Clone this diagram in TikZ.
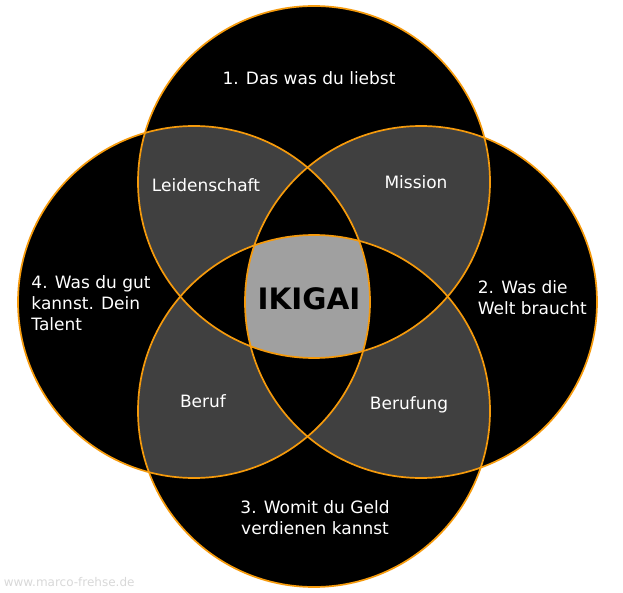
\documentclass[tikz,border=0pt]{standalone}
\usepackage{fontspec}
\setmainfont{DejaVu Sans}
\usepackage{tikz}
\usepackage{xcolor}
\definecolor{ringorange}{HTML}{F59A0C}
\definecolor{pairgrey}{HTML}{404040}
\definecolor{coregrey}{HTML}{A0A0A0}
\definecolor{markgrey}{HTML}{D8D8D8}

\begin{document}
\begin{tikzpicture}[x=1pt,y=1pt,line width=1.7pt]
\tikzstyle{caption}=[text=white,align=center,font=\fontsize{17}{21.3}\selectfont,inner sep=0pt]

\edef\sizering{176pt}
\useasboundingbox (0,0) rectangle (623,-593);

\coordinate (top) at (314,-182);
\coordinate (right) at (421,-302);
\coordinate (bottom) at (314,-411);
\coordinate (left) at (194,-302);

% black rings
\fill[black] (top) circle (\sizering);
\fill[black] (right) circle (\sizering);
\fill[black] (bottom) circle (\sizering);
\fill[black] (left) circle (\sizering);

% neighbours
\begin{scope}
    \clip (top) circle (\sizering);
    \fill[pairgrey] (left) circle (\sizering);
    \fill[pairgrey] (right) circle (\sizering);
\end{scope}
\begin{scope}
    \clip (bottom) circle (\sizering);
    \fill[pairgrey] (left) circle (\sizering);
    \fill[pairgrey] (right) circle (\sizering);
\end{scope}

% opposites
\begin{scope}
    \clip (top) circle (\sizering);
    \fill[black] (bottom) circle (\sizering);
\end{scope}
\begin{scope}
    \clip (left) circle (\sizering);
    \fill[black] (right) circle (\sizering);
\end{scope}

% middle
\begin{scope}
    \clip (top) circle (\sizering);
    \clip (bottom) circle (\sizering);
    \clip (left) circle (\sizering);
    \fill[coregrey] (right) circle (\sizering);
\end{scope}

\draw[ringorange] (top) circle (\sizering);
\draw[ringorange] (right) circle (\sizering);
\draw[ringorange] (bottom) circle (\sizering);
\draw[ringorange] (left) circle (\sizering);

\node [caption] (love) at (309,-78) {1. Das was du liebst};
\node [caption,align=left,anchor=west] (world) at (477,-298) {2. Was die\\Welt braucht};
\node [caption] (money) at (315,-518) {3. Womit du Geld\\verdienen kannst};
\node [caption,align=left] (talent) at (91,-303) {4. Was du gut\\kannst. Dein\\Talent};
\node [caption] (passion) at (206,-185) {Leidenschaft};
\node [caption] (mission) at (416,-182) {Mission};
\node [caption] (job) at (203,-401) {Beruf};
\node [caption] (vocation) at (409,-405) {Berufung};
\node [text=black,font=\fontsize{29.5}{32}\selectfont\bfseries,inner sep=0pt] (ikigai) at (309,-299) {IKIGAI};
\node [text=markgrey,font=\fontsize{12}{14}\selectfont,inner sep=0pt,anchor=west] (mark) at (3,-582) {www.marco-frehse.de};
\end{tikzpicture}
\end{document}
